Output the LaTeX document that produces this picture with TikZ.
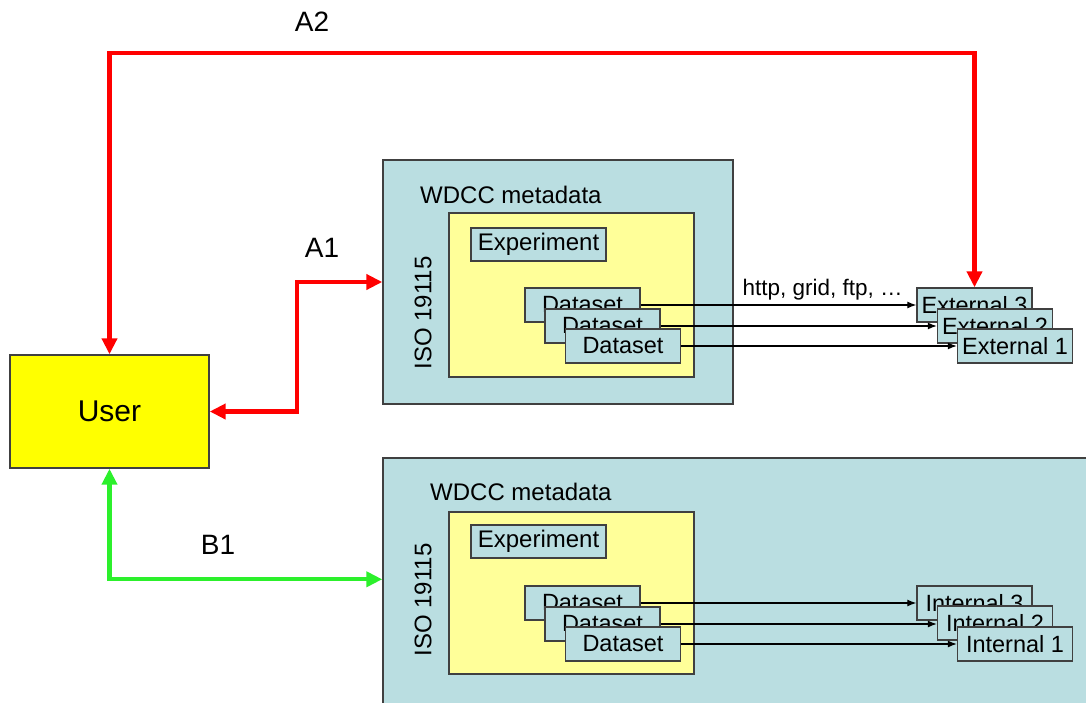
\documentclass[tikz,border=0pt]{standalone}
\usepackage{xcolor}
\usepackage{fontspec}
\setmainfont{Liberation Sans}
\usetikzlibrary{
	positioning,    % Per posizionare le etichette
	arrows.meta,    % Per le punte di freccia (Triangle, Latex)
	calc            % Per calcolare le coordinate
}

\definecolor{azzurro}{RGB}{186,222,225}
\definecolor{giallino}{RGB}{255,255,153}
\definecolor{giallo}{RGB}{255,255,0}
\definecolor{rosso}{RGB}{255,0,0}
\definecolor{verde}{RGB}{44,240,44}
\definecolor{bordo}{RGB}{64,64,64}

\begin{document}
\begin{tikzpicture}[
			x=1pt, y=-1pt,
			% Stile per i riquadri azzurri grandi
			pannello/.style={draw=bordo, line width=1.4pt, fill=azzurro, inner sep=0pt},
			% Riquadro giallo ISO 19115
			interno/.style={draw=bordo, line width=1.4pt, fill=giallino, inner sep=0pt,
				minimum width=245pt},
			% Scatole piccole (Dataset, External, Internal)
			scatola/.style={draw=bordo, line width=1.4pt, fill=azzurro, inner sep=0pt,
				minimum width=115pt, minimum height=34pt, font=\fontsize{23.5}{26}\selectfont},
			testo/.style={font=\fontsize{24}{26}\selectfont, inner sep=0pt},
			etichetta/.style={font=\fontsize{28}{30}\selectfont, inner sep=0pt},
			freccia_rossa/.style={draw=rosso, line width=4.3pt, <->,
				>={Triangle[length=16pt, width=15pt]}},
			freccia_verde/.style={draw=verde, line width=4.3pt, <->,
				>={Triangle[length=16pt, width=15pt]}},
			freccina/.style={-{Latex[length=9pt, width=7pt]}, line width=1.2pt}
			]
			
			\useasboundingbox (0,0) rectangle (1086,702);
			\clip (0,0) rectangle (1086,702);
			
			% --- Utente ---
			\node[draw=bordo, line width=1.4pt, fill=giallo, minimum width=199pt,
				minimum height=113pt, font=\fontsize{30}{32}\selectfont]
				(utente) at (109.5,411.5) {User};
			
			% --- Pannello A (esterno) ---
			\node[pannello, minimum width=350pt, minimum height=244pt] (pan_a) at (558,282) {};
			\node[testo, anchor=west] (wdcc_a) at (420,195) {WDCC metadata};
			\node[interno, minimum height=164pt] (iso_a) at (571.5,295) {};
			\node[testo, rotate=90] (isotxt_a) at (423,313) {ISO 19115};
			\node[scatola, font=\fontsize{24}{26}\selectfont, minimum width=135pt,
				minimum height=33pt] (exp_a) at (538.5,244.5) {Experiment};
			\node[scatola] (ds_a1) at (582.5,305) {Dataset};
			\node[scatola] (ds_a2) at (602.5,326) {Dataset};
			\node[scatola] (ds_a3) at (623,346) {Dataset};
			
			\node[scatola] (ext_3) at (974.5,305) {External 3};
			\node[scatola] (ext_2) at (995,326) {External 2};
			\node[scatola] (ext_1) at (1015,346) {External 1};
			
			\draw[freccina] (ds_a1.east) -- (ds_a1.east -| ext_3.west)
			node[pos=0.66, above=4pt, font=\fontsize{22.5}{24}\selectfont, inner sep=0pt]
			{http, grid, ftp, \dots};
			\draw[freccina] (ds_a2.east) -- (ds_a2.east -| ext_2.west);
			\draw[freccina] (ds_a3.east) -- (ds_a3.east -| ext_1.west);
			
			% --- Pannello B (interno) ---
			\node[pannello, minimum width=717pt, minimum height=262pt] (pan_b) at (741.5,589) {};
			\node[testo, anchor=west] (wdcc_b) at (430,492) {WDCC metadata};
			\node[interno, minimum height=162pt] (iso_b) at (571.5,593) {};
			\node[testo, rotate=90] (isotxt_b) at (423,600) {ISO 19115};
			\node[scatola, font=\fontsize{24}{26}\selectfont, minimum width=135pt,
				minimum height=33pt] (exp_b) at (538.5,541.5) {Experiment};
			\node[scatola] (ds_b1) at (582.5,603) {Dataset};
			\node[scatola] (ds_b2) at (602.5,624) {Dataset};
			\node[scatola] (ds_b3) at (623,644) {Dataset};
			
			\node[scatola] (int_3) at (974.5,603) {Internal 3};
			\node[scatola] (int_2) at (995,623) {Internal 2};
			\node[scatola] (int_1) at (1015,644) {Internal 1};
			
			\draw[freccina] (ds_b1.east) -- (ds_b1.east -| int_3.west);
			\draw[freccina] (ds_b2.east) -- (ds_b2.east -| int_2.west);
			\draw[freccina] (ds_b3.east) -- (ds_b3.east -| int_1.west);
			
			% --- Collegamenti ---
			\draw[freccia_rossa] (ext_3.north) -- ++(0,-234) -| (utente.north);
			\draw[freccia_rossa] (utente.east) -- ++(87,0) |- (pan_a.west);
			\draw[freccia_verde] (utente.south) |- ($(pan_b.north west)+(0,122)$);
			
			\node[etichetta] (lab_a2) at (312,22) {A2};
			\node[etichetta] (lab_a1) at (322,248) {A1};
			\node[etichetta] (lab_b1) at (218,545) {B1};
			
		\end{tikzpicture}
\end{document}
